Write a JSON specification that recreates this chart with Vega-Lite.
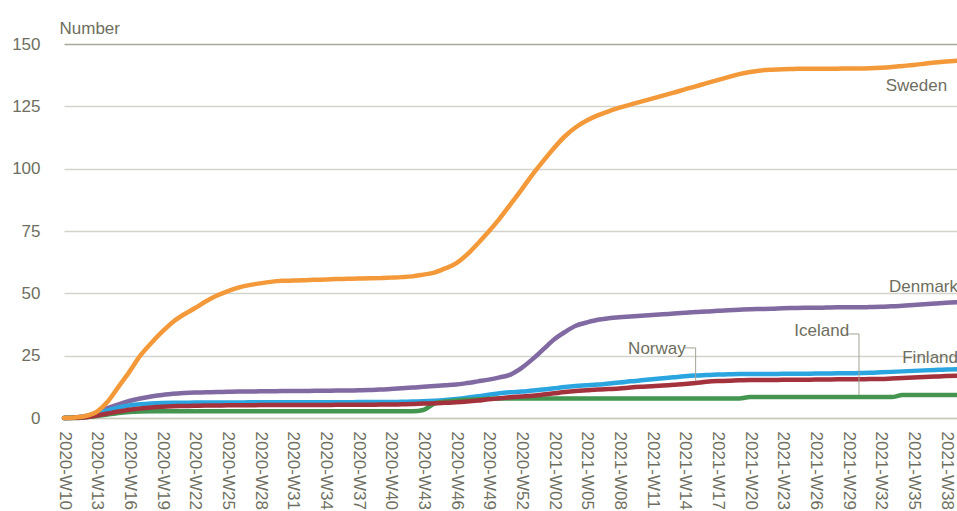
{
  "$schema": "https://vega.github.io/schema/vega-lite/v6.json",
  "width": 893,
  "height": 374,
  "autosize": "none",
  "padding": {"left": 64, "top": 44, "right": 0, "bottom": 93},
  "background": "white",
  "config": {
    "view": {"stroke": null},
    "font": "Liberation Sans",
    "axis": {"labelFont": "Liberation Sans", "titleFont": "Liberation Sans", "labelColor": "#6E6E60", "titleColor": "#6E6E60", "labelFontSize": 17, "titleFontSize": 17, "titleFontWeight": "normal"}
  },
  "datasets": {
    "series": [
      {"w":"2020-W10","Sweden":0,"Denmark":0,"Finland":0,"Norway":0,"Iceland":0},
      {"w":"2020-W11","Sweden":0.2,"Denmark":0.2,"Finland":0.2,"Norway":0.1,"Iceland":0},
      {"w":"2020-W12","Sweden":0.8,"Denmark":0.8,"Finland":0.6,"Norway":0.3,"Iceland":0.3},
      {"w":"2020-W13","Sweden":2.5,"Denmark":2.2,"Finland":1.8,"Norway":1,"Iceland":0.8},
      {"w":"2020-W14","Sweden":6.5,"Denmark":4,"Finland":3,"Norway":1.8,"Iceland":1.4},
      {"w":"2020-W15","Sweden":12.5,"Denmark":5.5,"Finland":4.2,"Norway":2.6,"Iceland":2},
      {"w":"2020-W16","Sweden":18.5,"Denmark":6.8,"Finland":5,"Norway":3.3,"Iceland":2.4},
      {"w":"2020-W17","Sweden":25,"Denmark":7.8,"Finland":5.5,"Norway":3.8,"Iceland":2.6},
      {"w":"2020-W18","Sweden":30,"Denmark":8.6,"Finland":5.8,"Norway":4.2,"Iceland":2.7},
      {"w":"2020-W19","Sweden":34.5,"Denmark":9.2,"Finland":6,"Norway":4.5,"Iceland":2.7},
      {"w":"2020-W20","Sweden":38.5,"Denmark":9.7,"Finland":6.1,"Norway":4.7,"Iceland":2.7},
      {"w":"2020-W21","Sweden":41.5,"Denmark":10,"Finland":6.1,"Norway":4.8,"Iceland":2.7},
      {"w":"2020-W22","Sweden":44,"Denmark":10.2,"Finland":6.2,"Norway":4.9,"Iceland":2.7},
      {"w":"2020-W23","Sweden":46.7,"Denmark":10.3,"Finland":6.2,"Norway":5,"Iceland":2.7},
      {"w":"2020-W24","Sweden":49,"Denmark":10.4,"Finland":6.2,"Norway":5,"Iceland":2.7},
      {"w":"2020-W25","Sweden":50.8,"Denmark":10.5,"Finland":6.2,"Norway":5.1,"Iceland":2.7},
      {"w":"2020-W26","Sweden":52.3,"Denmark":10.6,"Finland":6.2,"Norway":5.1,"Iceland":2.7},
      {"w":"2020-W27","Sweden":53.3,"Denmark":10.6,"Finland":6.3,"Norway":5.1,"Iceland":2.7},
      {"w":"2020-W28","Sweden":54,"Denmark":10.7,"Finland":6.3,"Norway":5.2,"Iceland":2.7},
      {"w":"2020-W29","Sweden":54.6,"Denmark":10.7,"Finland":6.3,"Norway":5.2,"Iceland":2.7},
      {"w":"2020-W30","Sweden":55,"Denmark":10.8,"Finland":6.3,"Norway":5.2,"Iceland":2.7},
      {"w":"2020-W31","Sweden":55.1,"Denmark":10.8,"Finland":6.3,"Norway":5.2,"Iceland":2.7},
      {"w":"2020-W32","Sweden":55.2,"Denmark":10.8,"Finland":6.3,"Norway":5.2,"Iceland":2.7},
      {"w":"2020-W33","Sweden":55.4,"Denmark":10.9,"Finland":6.3,"Norway":5.2,"Iceland":2.7},
      {"w":"2020-W34","Sweden":55.5,"Denmark":10.9,"Finland":6.3,"Norway":5.2,"Iceland":2.7},
      {"w":"2020-W35","Sweden":55.7,"Denmark":11,"Finland":6.3,"Norway":5.3,"Iceland":2.7},
      {"w":"2020-W36","Sweden":55.8,"Denmark":11,"Finland":6.3,"Norway":5.3,"Iceland":2.7},
      {"w":"2020-W37","Sweden":55.9,"Denmark":11.1,"Finland":6.4,"Norway":5.3,"Iceland":2.7},
      {"w":"2020-W38","Sweden":56,"Denmark":11.2,"Finland":6.4,"Norway":5.3,"Iceland":2.7},
      {"w":"2020-W39","Sweden":56.1,"Denmark":11.4,"Finland":6.4,"Norway":5.4,"Iceland":2.7},
      {"w":"2020-W40","Sweden":56.3,"Denmark":11.6,"Finland":6.4,"Norway":5.4,"Iceland":2.7},
      {"w":"2020-W41","Sweden":56.5,"Denmark":11.9,"Finland":6.5,"Norway":5.5,"Iceland":2.7},
      {"w":"2020-W42","Sweden":56.8,"Denmark":12.2,"Finland":6.6,"Norway":5.6,"Iceland":2.7},
      {"w":"2020-W43","Sweden":57.5,"Denmark":12.5,"Finland":6.7,"Norway":5.8,"Iceland":3.2},
      {"w":"2020-W44","Sweden":58.3,"Denmark":12.8,"Finland":6.9,"Norway":5.9,"Iceland":5.8},
      {"w":"2020-W45","Sweden":60,"Denmark":13.1,"Finland":7.2,"Norway":6.1,"Iceland":6.6},
      {"w":"2020-W46","Sweden":62,"Denmark":13.4,"Finland":7.6,"Norway":6.3,"Iceland":7},
      {"w":"2020-W47","Sweden":65.5,"Denmark":14,"Finland":8.1,"Norway":6.6,"Iceland":7.3},
      {"w":"2020-W48","Sweden":70,"Denmark":14.7,"Finland":8.7,"Norway":7,"Iceland":7.5},
      {"w":"2020-W49","Sweden":74.8,"Denmark":15.4,"Finland":9.3,"Norway":7.5,"Iceland":7.7},
      {"w":"2020-W50","Sweden":80,"Denmark":16.3,"Finland":9.9,"Norway":7.9,"Iceland":7.8},
      {"w":"2020-W51","Sweden":85.7,"Denmark":17.4,"Finland":10.3,"Norway":8.3,"Iceland":7.8},
      {"w":"2020-W52","Sweden":91.5,"Denmark":20,"Finland":10.6,"Norway":8.6,"Iceland":7.8},
      {"w":"2020-W53","Sweden":97.5,"Denmark":23.5,"Finland":11,"Norway":8.9,"Iceland":7.8},
      {"w":"2021-W01","Sweden":103,"Denmark":27.5,"Finland":11.4,"Norway":9.4,"Iceland":7.8},
      {"w":"2021-W02","Sweden":108.3,"Denmark":31.5,"Finland":11.9,"Norway":9.9,"Iceland":7.8},
      {"w":"2021-W03","Sweden":113,"Denmark":34.5,"Finland":12.4,"Norway":10.4,"Iceland":7.8},
      {"w":"2021-W04","Sweden":116.6,"Denmark":37,"Finland":12.8,"Norway":10.8,"Iceland":7.8},
      {"w":"2021-W05","Sweden":119.3,"Denmark":38.3,"Finland":13.1,"Norway":11.1,"Iceland":7.8},
      {"w":"2021-W06","Sweden":121.4,"Denmark":39.4,"Finland":13.4,"Norway":11.4,"Iceland":7.8},
      {"w":"2021-W07","Sweden":123,"Denmark":40,"Finland":13.8,"Norway":11.6,"Iceland":7.8},
      {"w":"2021-W08","Sweden":124.5,"Denmark":40.4,"Finland":14.2,"Norway":11.8,"Iceland":7.8},
      {"w":"2021-W09","Sweden":125.7,"Denmark":40.7,"Finland":14.7,"Norway":12.2,"Iceland":7.8},
      {"w":"2021-W10","Sweden":126.9,"Denmark":41,"Finland":15.1,"Norway":12.5,"Iceland":7.8},
      {"w":"2021-W11","Sweden":128.1,"Denmark":41.3,"Finland":15.5,"Norway":12.7,"Iceland":7.8},
      {"w":"2021-W12","Sweden":129.3,"Denmark":41.6,"Finland":15.9,"Norway":13,"Iceland":7.8},
      {"w":"2021-W13","Sweden":130.5,"Denmark":41.9,"Finland":16.3,"Norway":13.3,"Iceland":7.8},
      {"w":"2021-W14","Sweden":131.8,"Denmark":42.2,"Finland":16.7,"Norway":13.6,"Iceland":7.8},
      {"w":"2021-W15","Sweden":133,"Denmark":42.5,"Finland":17,"Norway":14,"Iceland":7.8},
      {"w":"2021-W16","Sweden":134.3,"Denmark":42.7,"Finland":17.2,"Norway":14.5,"Iceland":7.8},
      {"w":"2021-W17","Sweden":135.5,"Denmark":43,"Finland":17.4,"Norway":14.8,"Iceland":7.8},
      {"w":"2021-W18","Sweden":136.7,"Denmark":43.2,"Finland":17.5,"Norway":14.9,"Iceland":7.8},
      {"w":"2021-W19","Sweden":137.9,"Denmark":43.4,"Finland":17.6,"Norway":15.1,"Iceland":7.8},
      {"w":"2021-W20","Sweden":138.8,"Denmark":43.6,"Finland":17.6,"Norway":15.2,"Iceland":8.4},
      {"w":"2021-W21","Sweden":139.4,"Denmark":43.7,"Finland":17.6,"Norway":15.2,"Iceland":8.4},
      {"w":"2021-W22","Sweden":139.7,"Denmark":43.8,"Finland":17.6,"Norway":15.2,"Iceland":8.4},
      {"w":"2021-W23","Sweden":139.9,"Denmark":44,"Finland":17.7,"Norway":15.3,"Iceland":8.4},
      {"w":"2021-W24","Sweden":140,"Denmark":44.1,"Finland":17.7,"Norway":15.3,"Iceland":8.4},
      {"w":"2021-W25","Sweden":140.1,"Denmark":44.2,"Finland":17.7,"Norway":15.3,"Iceland":8.4},
      {"w":"2021-W26","Sweden":140.1,"Denmark":44.2,"Finland":17.8,"Norway":15.4,"Iceland":8.4},
      {"w":"2021-W27","Sweden":140.1,"Denmark":44.3,"Finland":17.8,"Norway":15.4,"Iceland":8.4},
      {"w":"2021-W28","Sweden":140.1,"Denmark":44.4,"Finland":17.9,"Norway":15.5,"Iceland":8.4},
      {"w":"2021-W29","Sweden":140.2,"Denmark":44.4,"Finland":17.9,"Norway":15.5,"Iceland":8.4},
      {"w":"2021-W30","Sweden":140.2,"Denmark":44.4,"Finland":18,"Norway":15.5,"Iceland":8.4},
      {"w":"2021-W31","Sweden":140.3,"Denmark":44.5,"Finland":18.1,"Norway":15.6,"Iceland":8.4},
      {"w":"2021-W32","Sweden":140.5,"Denmark":44.6,"Finland":18.3,"Norway":15.6,"Iceland":8.4},
      {"w":"2021-W33","Sweden":140.8,"Denmark":44.8,"Finland":18.5,"Norway":15.8,"Iceland":8.4},
      {"w":"2021-W34","Sweden":141.2,"Denmark":45,"Finland":18.7,"Norway":16,"Iceland":9.2},
      {"w":"2021-W35","Sweden":141.6,"Denmark":45.3,"Finland":18.9,"Norway":16.2,"Iceland":9.2},
      {"w":"2021-W36","Sweden":142.1,"Denmark":45.6,"Finland":19.1,"Norway":16.4,"Iceland":9.2},
      {"w":"2021-W37","Sweden":142.6,"Denmark":45.9,"Finland":19.3,"Norway":16.6,"Iceland":9.2},
      {"w":"2021-W38","Sweden":143,"Denmark":46.2,"Finland":19.5,"Norway":16.8,"Iceland":9.2},
      {"w":"2021-W39","Sweden":143.3,"Denmark":46.4,"Finland":19.6,"Norway":16.9,"Iceland":9.2}
    ],
    "labels": [
      {"label":"Sweden","w":"2021-W38","value":133.2},
      {"label":"Denmark","w":"2021-W39","value":52.7},
      {"label":"Finland","w":"2021-W39","value":23.9},
      {"label":"Iceland","w":"2021-W29","value":34.7},
      {"label":"Norway","w":"2021-W14","value":27.5}
    ],
    "vleaders": [
      {"w":"2021-W30","value":33.7,"value2":9.3},
      {"w":"2021-W15","value":28.1,"value2":14.9}
    ],
    "hleaders": [
      {"w":"2021-W29","w2":"2021-W30","value":33.7},
      {"w":"2021-W14","w2":"2021-W15","value":28.1}
    ]
  },
  "encoding": {
    "x": {
      "field": "w", "type": "ordinal",
      "scale": {"type": "point", "padding": 0},
      "axis": {
        "title": null,
        "values": ["2020-W10","2020-W13","2020-W16","2020-W19","2020-W22","2020-W25","2020-W28","2020-W31","2020-W34","2020-W37","2020-W40","2020-W43","2020-W46","2020-W49","2020-W52","2021-W02","2021-W05","2021-W08","2021-W11","2021-W14","2021-W17","2021-W20","2021-W23","2021-W26","2021-W29","2021-W32","2021-W35","2021-W38"],
        "labelAngle": 90,
        "labelPadding": 13,
        "ticks": false,
        "grid": false,
        "domainColor": "#C9C9BD",
        "domainWidth": 1.5,
        "labelOverlap": false
      }
    },
    "y": {
      "field": "value", "type": "quantitative",
      "scale": {"domain": [0, 150], "nice": false},
      "axis": {
        "title": "Number",
        "titleAngle": 0,
        "titleAlign": "left",
        "titleBaseline": "alphabetic",
        "titleX": -5,
        "titleY": -11,
        "values": [0, 25, 50, 75, 100, 125, 150],
        "ticks": false,
        "domain": false,
        "labelPadding": 24,
        "gridColor": {"condition": {"test": "datum.value === 150", "value": "#A9A99B"}, "value": "#D3D3CB"},
        "gridWidth": 1.5
      }
    }
  },
  "layer": [
    {
      "data": {"name": "series"},
      "transform": [{"fold": ["Denmark","Finland","Iceland","Norway","Sweden"], "as": ["country","value"]}],
      "mark": {"type": "line", "strokeWidth": 4.5, "interpolate": "monotone", "strokeCap": "round", "strokeJoin": "round"},
      "encoding": {
        "color": {
          "field": "country", "type": "nominal",
          "scale": {"domain": ["Denmark","Finland","Iceland","Norway","Sweden"], "range": ["#8169A2","#2AA5DF","#43954F","#A3323D","#F4993A"]},
          "legend": null
        }
      }
    },
    {
      "data": {"name": "vleaders"},
      "mark": {"type": "rule", "color": "#A3A395", "strokeWidth": 1},
      "encoding": {
        "y2": {"field": "value2"}
      }
    },
    {
      "data": {"name": "hleaders"},
      "mark": {"type": "rule", "color": "#A3A395", "strokeWidth": 1},
      "encoding": {
        "x2": {"field": "w2"}
      }
    },
    {
      "data": {"name": "labels"},
      "mark": {"type": "text", "align": "right", "baseline": "middle", "font": "Liberation Sans", "fontSize": 17, "color": "#6E6E60", "dx": 1},
      "encoding": {
        "text": {"field": "label"}
      }
    }
  ]
}
